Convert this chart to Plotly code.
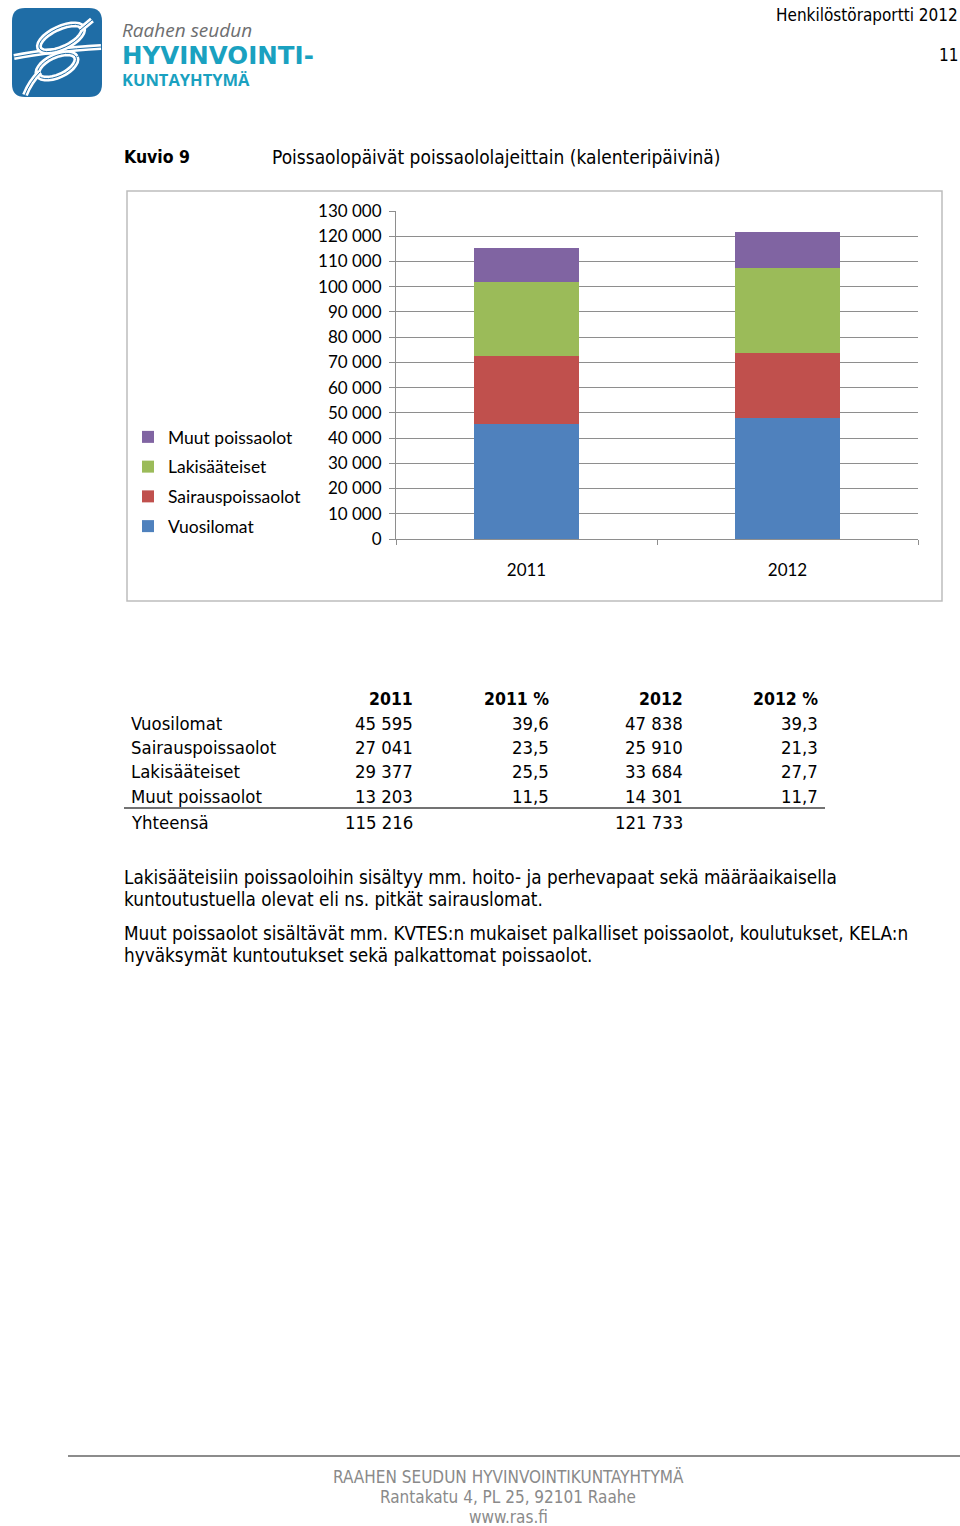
import math
import plotly.graph_objects as go

W, H = 960, 1526

# ---- data ----
years = ["2011", "2012"]
series_names = ["Vuosilomat", "Sairauspoissaolot", "Lakisääteiset", "Muut poissaolot"]
vuosilomat = [45595, 47838]
sairauspoissaolot = [27041, 25910]
lakisaateiset = [29377, 33684]
muut_poissaolot = [13203, 14301]
pct_2011 = ["39,6", "23,5", "25,5", "11,5"]
pct_2012 = ["39,3", "21,3", "27,7", "11,7"]
y_ticks = list(range(0, 130001, 10000))

series_values = [vuosilomat, sairauspoissaolot, lakisaateiset, muut_poissaolot]
colors = ["#4f81bd", "#c0504d", "#9bbb59", "#8064a2"]

DOC_FONT = "DejaVu Sans Condensed"
CHART_FONT = "Lato"
TS = 18.8   # body text size
TB = 18.4   # table text size


def fmt(n):
    return f"{n:,}".replace(",", " ")


fig = go.Figure()
n_series = len(series_names)
for i, (name, vals, col) in enumerate(zip(series_names, series_values, colors)):
    fig.add_trace(go.Bar(
        x=years, y=vals, name=name, marker=dict(color=col, line=dict(width=0)),
        legendgroup=name, legendrank=(n_series - i) * 10, xaxis="x", yaxis="y",
    ))

# invisible page-pixel axes for decorations
fig.add_trace(go.Scatter(x=[0], y=[0], xaxis="x2", yaxis="y2", mode="markers",
                         marker=dict(opacity=0), showlegend=False, hoverinfo="skip"))


def px(x):
    return x / W


def py(y):
    return 1 - y / H


shapes = []
annotations = []


def text(x, y, s, size=TS, color="#000", anchor="left", bold=False, family=DOC_FONT, italic=False):
    if bold:
        s = f"<b>{s}</b>"
    if italic:
        s = f"<i>{s}</i>"
    # compensate annotation padding
    if anchor == "left":
        x -= 2
    elif anchor == "right":
        x += 2
    annotations.append(dict(x=x, y=y, xref="x2", yref="y2", text=s, showarrow=False,
                            xanchor=anchor, yanchor="middle",
                            font=dict(family=family, size=size, color=color)))


def line(x0, y0, x1, y1, color="#555", width=1.5):
    shapes.append(dict(type="line", x0=x0, y0=y0, x1=x1, y1=y1, xref="x2", yref="y2",
                       line=dict(color=color, width=width)))


# ---- logo ----
def rounded_rect(x0, y0, x1, y1, r):
    return (f"M{x0+r},{y0} L{x1-r},{y0} Q{x1},{y0} {x1},{y0+r} L{x1},{y1-r} "
            f"Q{x1},{y1} {x1-r},{y1} L{x0+r},{y1} Q{x0},{y1} {x0},{y1-r} "
            f"L{x0},{y0+r} Q{x0},{y0} {x0+r},{y0} Z")


def ellipse_path(cx, cy, rx, ry, ang_deg, n=28):
    a = math.radians(ang_deg)
    pts = []
    for i in range(n + 1):
        t = 2 * math.pi * i / n
        ex, ey = rx * math.cos(t), ry * math.sin(t)
        pts.append((cx + ex * math.cos(a) - ey * math.sin(a), cy + ex * math.sin(a) + ey * math.cos(a)))
    return "M" + " L".join(f"{x:.1f},{y:.1f}" for x, y in pts)


shapes.append(dict(type="path", path=rounded_rect(12, 8, 102, 97, 13), xref="x2", yref="y2",
                   fillcolor="#1f6da6", line=dict(width=0)))
for w, c in [(6, "white"), (1, "#1f6da6")]:
    shapes.append(dict(type="path", path="M14,57 Q50,50 101,47", xref="x2", yref="y2",
                       line=dict(color=c, width=w)))
for cx, cy, rx, ry in [(61, 38, 24, 10), (57, 66, 21, 10)]:
    for w, c in [(6, "white"), (1, "#1f6da6")]:
        shapes.append(dict(type="path", path=ellipse_path(cx, cy, rx, ry, -25), xref="x2", yref="y2",
                           line=dict(color=c, width=w)))
for pth in ["M92,20 Q86,25 80,30", "M40,72 Q30,82 25,95"]:
    for w, c in [(6, "white"), (1, "#1f6da6")]:
        shapes.append(dict(type="path", path=pth, xref="x2", yref="y2", line=dict(color=c, width=w)))

text(122, 30, "Raahen seudun", size=19, color="#6d6e70", family="Open Sans", italic=True)
text(122, 55, "HYVINVOINTI-", size=24.5, color="#1aa1c0", family="DejaVu Sans", bold=True)
text(122, 79, "KUNTAYHTYMÄ", size=16.5, color="#1aa1c0", family="Open Sans", bold=True)

# ---- header ----
text(958, 15, "Henkilöstöraportti 2012", size=17, anchor="right")
text(958, 55, "11", size=17, anchor="right")

# ---- figure title ----
text(124, 157, "Kuvio 9", bold=True, size=17.5)
text(272, 157, "Poissaolopäivät poissaololajeittain (kalenteripäivinä)", size=19)

# chart border
shapes.append(dict(type="rect", x0=127, y0=191, x1=942, y1=601, xref="x2", yref="y2",
                   line=dict(color="#bdbdbd", width=1.5)))

# ---- table ----
col_x = [413, 549, 683, 818]
row_y = [723, 747, 771, 796]
hdr = ["2011", "2011 %", "2012", "2012 %"]
for cx, h in zip(col_x, hdr):
    text(cx, 699, h, anchor="right", bold=True, size=17.5)
for i, name in enumerate(series_names):
    text(131, row_y[i], name, size=TB)
    text(col_x[0], row_y[i], fmt(series_values[i][0]), anchor="right", size=TB)
    text(col_x[1], row_y[i], pct_2011[i], anchor="right", size=TB)
    text(col_x[2], row_y[i], fmt(series_values[i][1]), anchor="right", size=TB)
    text(col_x[3], row_y[i], pct_2012[i], anchor="right", size=TB)
line(124, 808, 825, 808, color="#444", width=1.5)
text(131, 822, "Yhteensä", size=TB)
text(col_x[0], 822, fmt(sum(v[0] for v in series_values)), anchor="right", size=TB)
text(col_x[2], 822, fmt(sum(v[1] for v in series_values)), anchor="right", size=TB)

# ---- notes ----
text(124, 877, "Lakisääteisiin poissaoloihin sisältyy mm. hoito- ja perhevapaat sekä määräaikaisella")
text(124, 899, "kuntoutustuella olevat eli ns. pitkät sairauslomat.")
text(124, 933, "Muut poissaolot sisältävät mm. KVTES:n mukaiset palkalliset poissaolot, koulutukset, KELA:n")
text(124, 955, "hyväksymät kuntoutukset sekä palkattomat poissaolot.")

# ---- footer ----
line(68, 1456, 960, 1456, color="#666", width=1.5)
text(508, 1477, "RAAHEN SEUDUN HYVINVOINTIKUNTAYHTYMÄ", size=17, color="#8a8a8a", anchor="center")
text(508, 1497, "Rantakatu 4, PL 25, 92101 Raahe", size=17, color="#8a8a8a", anchor="center")
text(508, 1517, "www.ras.fi", size=17, color="#8a8a8a", anchor="center")

grid = "#8e8e8e"
fig.update_layout(
    width=W, height=H, margin=dict(l=0, r=0, t=0, b=0, pad=0, autoexpand=False),
    paper_bgcolor="white", plot_bgcolor="rgba(0,0,0,0)",
    barmode="stack", bargap=0.6,
    separators=", ",
    showlegend=True,
    legend=dict(x=px(128), y=py(419), xanchor="left", yanchor="top",
                traceorder="grouped", tracegroupgap=4,
                font=dict(family=CHART_FONT, size=17.5, color="#000"),
                bgcolor="rgba(0,0,0,0)"),
    xaxis=dict(domain=[px(396), px(918)], anchor="y", type="category",
               showline=True, linecolor=grid, linewidth=1,
               ticks="outside", tickson="boundaries", ticklen=5, tickcolor=grid,
               ticklabelstandoff=16, automargin=False,
               tickfont=dict(family=CHART_FONT, size=17, color="#000"),
               showgrid=False, fixedrange=True),
    yaxis=dict(domain=[py(539), py(211)], anchor="x", range=[0, 130000],
               tickvals=y_ticks, tickformat=",d",
               showline=True, linecolor=grid, linewidth=1,
               ticks="outside", ticklen=6, tickcolor=grid,
               ticklabelstandoff=4, automargin=False,
               showgrid=True, gridcolor=grid, gridwidth=1,
               zeroline=False,
               tickfont=dict(family=CHART_FONT, size=17, color="#000"),
               fixedrange=True),
    xaxis2=dict(domain=[0, 1], anchor="y2", range=[0, W], visible=False, fixedrange=True,
                automargin=False),
    yaxis2=dict(domain=[0, 1], anchor="x2", range=[H, 0], visible=False, fixedrange=True,
                automargin=False),
    shapes=shapes, annotations=annotations,
)

page_css = (
    "var gd=document.querySelector('.plotly-graph-div');"
    "[document.documentElement,document.body].forEach(function(e){e.style.margin='0';e.style.padding='0';"
    "e.style.overflow='hidden';e.style.lineHeight='0';});"
    "var p=gd.parentElement;while(p&&p!==document.body){p.style.margin='0';p.style.padding='0';"
    "p.style.lineHeight='0';p=p.parentElement;}"
    "gd.style.display='block';"
)

fig.write_html("out.html", config={"displayModeBar": False}, post_script=page_css)
